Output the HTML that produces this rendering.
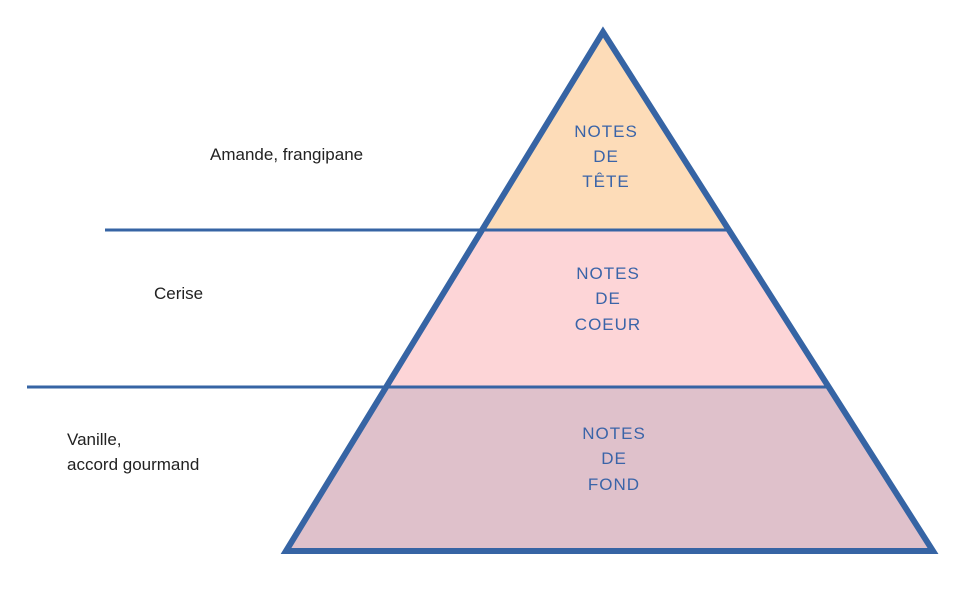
<!DOCTYPE html>
<html><head><meta charset="utf-8"><style>
html,body{margin:0;padding:0;background:#fff;}
svg{display:block;}
text{font-family:"Liberation Sans",sans-serif;}
</style></head><body>
<svg width="959" height="614" viewBox="0 0 959 614" xmlns="http://www.w3.org/2000/svg">
<polygon points="603,32 482,230 729,230" fill="#FDDCB8"/>
<polygon points="482,230 729,230 829,387 386,387" fill="#FDD5D7"/>
<polygon points="386,387 829,387 933,551 286,551" fill="#DFC1CB"/>
<line x1="105" y1="230" x2="729" y2="230" stroke="#3664A4" stroke-width="3"/>
<line x1="27" y1="387" x2="829" y2="387" stroke="#3664A4" stroke-width="3"/>
<polygon points="603,32 933,551 286,551" fill="none" stroke="#3664A4" stroke-width="6" stroke-linejoin="miter"/>
<g fill="#3A64A8" font-size="17" text-anchor="middle" letter-spacing="1">
<text x="606" y="137">NOTES</text><text x="606" y="162">DE</text><text x="606" y="187">TÊTE</text>
<text x="608" y="279">NOTES</text><text x="608" y="304">DE</text><text x="608" y="330">COEUR</text>
<text x="614" y="439">NOTES</text><text x="614" y="464">DE</text><text x="614" y="490">FOND</text>
</g>
<g fill="#222" font-size="17">
<text x="210" y="160">Amande, frangipane</text>
<text x="154" y="299">Cerise</text>
<text x="67" y="445">Vanille,</text>
<text x="67" y="470">accord gourmand</text>
</g>
</svg>
</body></html>
